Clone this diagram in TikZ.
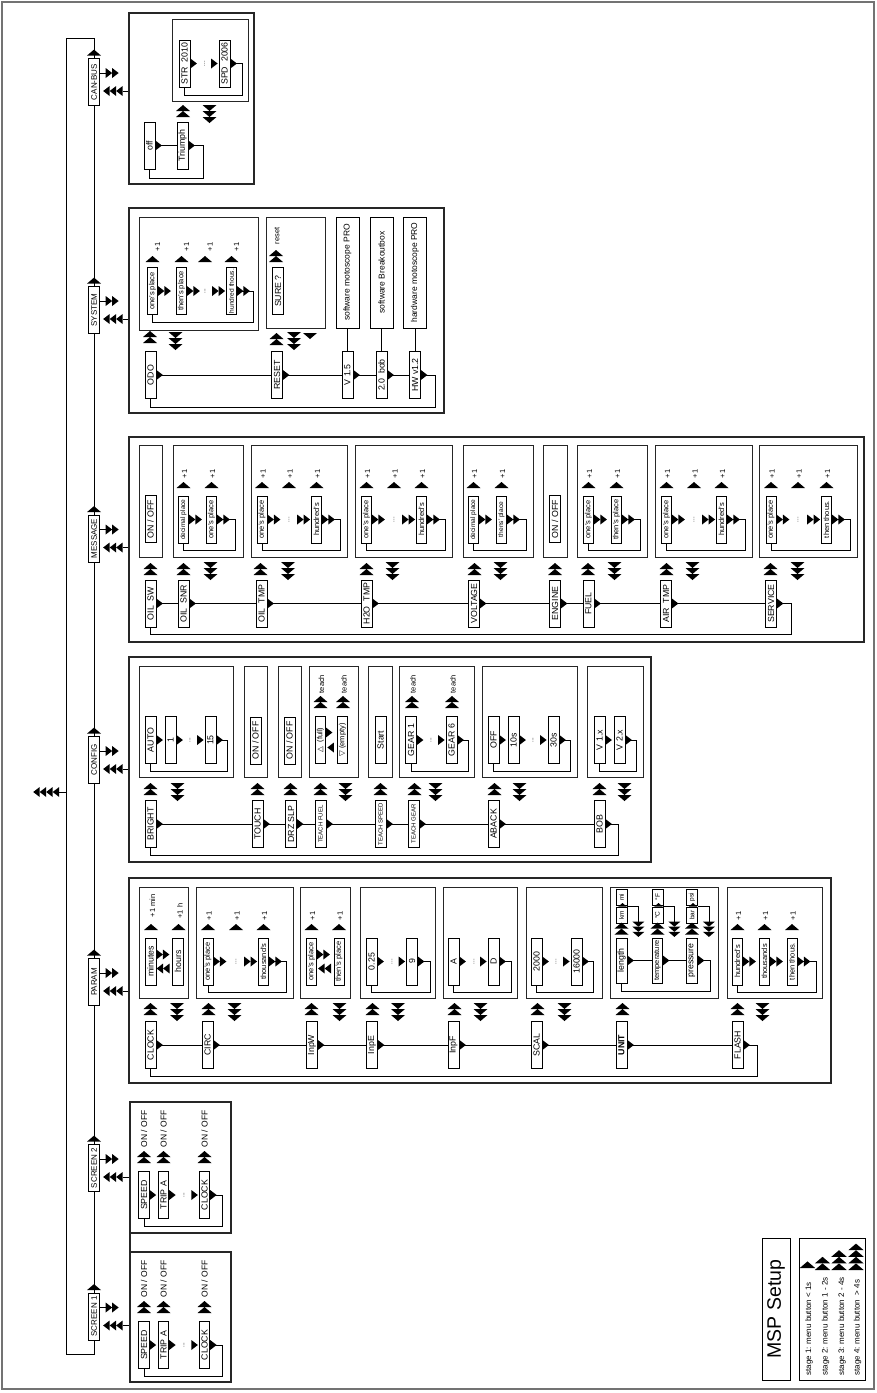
\documentclass[tikz,border=0pt]{standalone}
\usepackage{fontspec}
\setmainfont{Liberation Sans}
\newfontfamily\dejavu{DejaVu Sans}
\usepackage{graphicx}
\usetikzlibrary{calc}

\newcommand\vtext[1]{\rotatebox{90}{#1}}

\tikzset{
  bigframe/.style={draw=black!85, line width=1.2pt},
  subbox/.style={draw=black!85, line width=.9pt},
  menu/.style={draw, line width=.8pt, minimum width=10.5, minimum height=47, inner sep=0pt, font=\fontsize{8}{8}\selectfont},
  item/.style={draw, line width=.8pt, minimum width=11, minimum height=47, inner sep=0pt, font=\fontsize{8.8}{8.8}\selectfont},
  digit/.style={item, minimum width=10, font=\fontsize{7.5}{7.5}\selectfont},
  smalldigit/.style={digit, font=\fontsize{6.6}{6.6}\selectfont},
  teachitem/.style={item, font=\fontsize{6}{6}\selectfont},
  info/.style={item, minimum width=23, minimum height=111, font=\fontsize{8.5}{8.5}\selectfont},
  unitbox/.style={draw, line width=.8pt, minimum width=11, minimum height=16, inner sep=0pt, font=\fontsize{6.5}{6.5}\selectfont},
  note/.style={inner sep=0pt, font=\fontsize{7.5}{7.5}\selectfont},
  ellip/.style={inner sep=0pt, font=\fontsize{6}{6}\selectfont},
  rarr/.pic={\foreach \k in {1,...,#1} \fill ({(\k-1)*6.5},-5) -- ({\k*6.5},0) -- ({(\k-1)*6.5},5) -- cycle;},
  larr/.pic={\foreach \k in {1,...,#1} \fill ({-(\k-1)*6.5},-5) -- ({-\k*6.5},0) -- ({-(\k-1)*6.5},5) -- cycle;},
  uarr/.pic={\foreach \k in {1,...,#1} \fill (-7,{-(\k-1)*6}) -- (0,{-\k*6}) -- (7,{-(\k-1)*6}) -- cycle;},
  darr/.pic={\foreach \k in {1,...,#1} \fill (-7,{(\k-1)*6}) -- (0,{\k*6}) -- (7,{(\k-1)*6}) -- cycle;},
}

\begin{document}
\begin{tikzpicture}[x={(1pt,0pt)}, y={(0pt,-1pt)}, line width=.8pt]
  \useasboundingbox (0,0) rectangle (876,1393);
  \draw[black!55, line width=1.6pt] (2,2) rectangle (874,1389);

  % top level menu
  \begin{scope}[every node/.style={menu}]
    \node (can)  at (94,82)     {\vtext{CAN-BUS}};
    \node (sys)  at (94,310)    {\vtext{SYSTEM}};
    \node (msg)  at (94,538.5)  {\vtext{MESSAGE}};
    \node (cfg)  at (94,760)    {\vtext{CONFIG}};
    \node (par)  at (94,982)    {\vtext{PARAM}};
    \node (scr2) at (94,1168)   {\vtext{SCREEN 2}};
    \node (scr1) at (94,1316.5) {\vtext{SCREEN 1}};
  \end{scope}

  \coordinate (corner) at (66.7,38);
  \coordinate (quit) at (66.7,792);
  \draw (scr1.north) -- (scr2.south) (scr2.north) -- (par.south)
        (par.north) -- (cfg.south) (cfg.north) -- (msg.south)
        (msg.north) -- (sys.south) (sys.north) -- (can.south);
  \draw (scr1.south) -- ++(0,14) -| (corner) -| (can.north);
  \draw (quit) -- ++(-7.5,0);
  \pic at ($(quit)+(-7.5,0)$) {larr=4};
  \foreach \m in {scr1,scr2,par,cfg,msg,sys,can} {
    \pic at ($(\m.north)+(0,-2.5)$) {uarr=1};
    \draw ($(\m.east)+(0,-9)$) -- ++(6,0);
    \pic at ($(\m.east)+(6,-9)$) {rarr=2};
    \draw ($(\m.east)+(30,9)$) -- ++(-7,0);
    \pic at ($(\m.east)+(23,9)$) {larr=3};
  }

  % frames
  \begin{scope}[bigframe]
    \draw (129,13) rectangle (254,184);
    \draw (129,208) rectangle (444,413);
    \draw (129,437) rectangle (864,642);
    \draw (129,657) rectangle (651,862);
    \draw (129,878) rectangle (831,1083);
    \draw (130,1102) rectangle (231,1233);
    \draw (130,1252) rectangle (231,1382);
    \draw (130,1233) -- (130,1252);
  \end{scope}

  % CAN-BUS
  \draw[subbox] (172,19) rectangle (248,101);
  \begin{scope}[every node/.style={item}]
    \node (str) at (184.5,63.5)  {\vtext{STR\ \ 2010}};
    \node (spd) at (224.5,63.5)  {\vtext{SPD\ \ 2006}};
    \node (off) at (149.5,145.5) {\vtext{off}};
    \node (tri) at (182.5,145.5) {\vtext{Triumph}};
  \end{scope}
  \node[ellip] (cdots) at (204.5,63.5) {\vtext{...}};
  \foreach \n in {str,spd,off,tri} \pic at (\n.east) {rarr=1};
  \pic at ($(spd.west)+(-7.5,0)$) {rarr=1};
  \draw (spd.east) -- ++(12,0) |- ($(str.south)+(0,8)$) -- (str.south);
  \draw (off.east) -- (tri.west);
  \draw (tri.east) -- ++(15,0) |- ($(off.south)+(0,9)$) -- (off.south);
  \pic at (183,117) {uarr=2};
  \pic at (209.5,105) {darr=3};

  % SYSTEM
  \begin{scope}[subbox]
    \draw (139,217) rectangle (258,330);
    \draw (266,217) rectangle (325,328);
  \end{scope}
  \begin{scope}[every node/.style={item}]
    \node (odo)  at (150.5,375) {\vtext{ODO}};
    \node (rst)  at (277,375)   {\vtext{RESET}};
    \node (vsw)  at (347.5,375) {\vtext{V 1.5}};
    \node (vbob) at (381.5,375) {\vtext{2.0\ \ bob}};
    \node (vhw)  at (415,375)   {\vtext{HW v1.2}};
    \node (sure) at (278,291)   {\vtext{SURE ?}};
    \node[info] (swp) at (347.5,272.5) {\vtext{software motoscope PRO}};
    \node[info] (swb) at (381.5,272.5) {\vtext{software Breakoutbox}};
    \node[info] (hwp) at (415,272.5)   {\vtext{hardware motoscope PRO}};
  \end{scope}
  \begin{scope}[every node/.style={digit}]
    \node (oneO) at (152.5,291) {\vtext{one's place}};
    \node (thnO) at (181.5,291) {\vtext{then's place}};
    \node[smalldigit] (hthO) at (231.5,291) {\vtext{hundred thous.}};
  \end{scope}
  \node[ellip] (odots) at (205,291) {\vtext{...}};
  \draw (odo.east) -- (rst.west) (rst.east) -- (vsw.west) (vsw.east) -- (vbob.west) (vbob.east) -- (vhw.west);
  \draw (vhw.east) -- ++(14,0) |- ($(odo.south)+(0,8)$) -- (odo.south);
  \foreach \n in {odo,rst,vsw,vbob,vhw} \pic at (\n.east) {rarr=1};
  \draw (vsw.north) -- (swp.south) (vbob.north) -- (swb.south) (vhw.north) -- (hwp.south);
  \foreach \n in {oneO,thnO,hthO} \pic at (\n.east) {rarr=2};
  \pic at ($(hthO.west)+(-14,0)$) {rarr=2};
  \draw (hthO.east) -- ++(16,0) |- ($(oneO.south)+(0,7)$) -- (oneO.south);
  \foreach \x [count=\i] in {152.5,181.5,205,231.5} {
    \pic at (\x,262) {uarr=1};
    \node[note] (op\i) at (\x+5,247) {\vtext{+1}};
  }
  \pic at (276,262) {uarr=2};
  \node[note] (rlab) at (277,236) {\vtext{reset}};
  \pic at (150,343) {uarr=2};
  \pic at (175.5,332) {darr=3};
  \pic at (276.5,345) {uarr=2};
  \pic at (294,332) {darr=3};
  \pic at (310,333) {darr=1};

  % MESSAGE
  \begin{scope}[subbox]
    \draw (139,445) rectangle (162,557);
    \draw (173,445) rectangle (243,557);
    \draw (251,445) rectangle (347,557);
    \draw (355,445) rectangle (452,557);
    \draw (463,445) rectangle (533,557);
    \draw (543,445) rectangle (567,557);
    \draw (577,445) rectangle (647,557);
    \draw (655,445) rectangle (752,557);
    \draw (759,445) rectangle (857,557);
  \end{scope}
  \begin{scope}[every node/.style={item}]
    \node (oilsw)  at (150.5,603.5) {\vtext{OIL\ \ SW}};
    \node (oilsnr) at (183.5,603.5) {\vtext{OIL\ \ SNR}};
    \node (oiltmp) at (261.5,603.5) {\vtext{OIL\ \ TMP}};
    \node (htwo)   at (366.5,603.5) {\vtext{H2O\ \ TMP}};
    \node (volt)   at (474,603.5)   {\vtext{VOLTAGE}};
    \node (eng)    at (555,603.5)   {\vtext{ENGINE}};
    \node (fuel)   at (588.5,603.5) {\vtext{FUEL}};
    \node (airt)   at (666,603.5)   {\vtext{AIR\ \ TMP}};
    \node (serv)   at (771,603.5)   {\vtext{SERVICE}};
    \node (onA)    at (150.5,519)   {\vtext{ON / OFF}};
    \node (onB)    at (555,519)     {\vtext{ON / OFF}};
  \end{scope}
  \begin{scope}[every node/.style={digit}]
    \node[smalldigit] (decA) at (183.5,519.5) {\vtext{decimal place}};
    \node (oneA) at (211.5,519.5) {\vtext{one's place}};
    \node (oneB) at (262,519.5)   {\vtext{one's place}};
    \node (hunB) at (316.5,519.5) {\vtext{hundred's}};
    \node (oneC) at (366.5,519.5) {\vtext{one's place}};
    \node (hunC) at (421.5,519.5) {\vtext{hundred's}};
    \node[smalldigit] (decD) at (473.5,519.5) {\vtext{decimal place}};
    \node[smalldigit] (thsD) at (501.5,519.5) {\vtext{thens' place}};
    \node (oneE) at (588.5,519.5) {\vtext{one's place}};
    \node (thnE) at (616.5,519.5) {\vtext{then's place}};
    \node (oneF) at (666.5,519.5) {\vtext{one's place}};
    \node (hunF) at (721.5,519.5) {\vtext{hundred's}};
    \node (oneG) at (771,519.5)   {\vtext{one's place}};
    \node (tthG) at (826.5,519.5) {\vtext{then thous.}};
  \end{scope}
  \node[ellip] (mdB) at (289,519.5) {\vtext{...}};
  \node[ellip] (mdC) at (394,519.5) {\vtext{...}};
  \node[ellip] (mdF) at (694,519.5) {\vtext{...}};
  \node[ellip] (mdG) at (798,519.5) {\vtext{...}};
  \draw (oilsw.east) -- (oilsnr.west) (oilsnr.east) -- (oiltmp.west) (oiltmp.east) -- (htwo.west)
        (htwo.east) -- (volt.west) (volt.east) -- (eng.west) (eng.east) -- (fuel.west)
        (fuel.east) -- (airt.west) (airt.east) -- (serv.west);
  \draw (serv.east) -- ++(14.5,0) |- ($(oilsw.south)+(0,7)$) -- (oilsw.south);
  \foreach \n in {oilsw,oilsnr,oiltmp,htwo,volt,eng,fuel,airt,serv} \pic at (\n.east) {rarr=1};
  \foreach \n in {decA,oneA,oneB,hunB,oneC,hunC,decD,thsD,oneE,thnE,oneF,hunF,oneG,tthG} \pic at (\n.east) {rarr=2};
  \foreach \n in {hunB,hunC,hunF,tthG} \pic at ($(\n.west)+(-14,0)$) {rarr=2};
  \draw (oneA.east) -- ++(18,0) |- ($(decA.south)+(0,7)$) -- (decA.south);
  \draw (hunB.east) -- ++(18,0) |- ($(oneB.south)+(0,7)$) -- (oneB.south);
  \draw (hunC.east) -- ++(18,0) |- ($(oneC.south)+(0,7)$) -- (oneC.south);
  \draw (thsD.east) -- ++(19,0) |- ($(decD.south)+(0,7)$) -- (decD.south);
  \draw (thnE.east) -- ++(18,0) |- ($(oneE.south)+(0,7)$) -- (oneE.south);
  \draw (hunF.east) -- ++(18,0) |- ($(oneF.south)+(0,7)$) -- (oneF.south);
  \draw (tthG.east) -- ++(18,0) |- ($(oneG.south)+(0,7)$) -- (oneG.south);
  \foreach \x [count=\i] in {183.5,211.5,262,289,316.5,366.5,394,421.5,473.5,501.5,588.5,616.5,666.5,694,721.5,771,798,826.5} {
    \pic at (\x,488) {uarr=1};
    \node[note] (mp\i) at (\x+1,474) {\vtext{+1}};
  }
  \foreach \x in {150.5,183.5,260.5,366.5,474.5,555,588,666.5,770.5} \pic at (\x,575) {uarr=2};
  \foreach \x in {210.5,288,392.5,500.5,614.5,692.5,797.5} \pic at (\x,562) {darr=3};

  % CONFIG
  \begin{scope}[subbox]
    \draw (139,666) rectangle (233,777);
    \draw (244,666) rectangle (267,777);
    \draw (278,666) rectangle (301,777);
    \draw (309,666) rectangle (358,777);
    \draw (368,666) rectangle (392,777);
    \draw (399,666) rectangle (474,777);
    \draw (482,666) rectangle (577,777);
    \draw (587,666) rectangle (643,777);
  \end{scope}
  \begin{scope}[every node/.style={item}]
    \node (bright) at (150.5,824) {\vtext{BRIGHT}};
    \node (touch)  at (257.5,824) {\vtext{TOUCH}};
    \node (drz)    at (291,824)   {\vtext{DRZ SLP}};
    \node[teachitem] (tfuel)  at (320.5,824) {\vtext{TEACH FUEL}};
    \node[teachitem] (tspeed) at (380.5,824) {\vtext{TEACH SPEED}};
    \node[teachitem] (tgear)  at (413.5,824) {\vtext{TEACH GEAR}};
    \node (aback)  at (493.5,824) {\vtext{ABACK}};
    \node (bobm)   at (599.5,824) {\vtext{BOB}};
    \node (bauto)  at (150.5,740) {\vtext{AUTO}};
    \node (bone)   at (170.5,740) {\vtext{1}};
    \node (bfif)   at (210.5,740) {\vtext{15}};
    \node (onC)    at (255.5,740.5) {\vtext{ON / OFF}};
    \node (onD)    at (289.5,740.5) {\vtext{ON / OFF}};
    \node[digit] (full)  at (320.5,740) {\vtext{{\dejavu △}\ \ (full)}};
    \node[digit] (empty) at (342.5,740) {\vtext{{\dejavu ▽} (empty)}};
    \node (start)  at (380.5,740) {\vtext{Start}};
    \node (gone)   at (411,740)   {\vtext{GEAR 1}};
    \node (gsix)   at (451.5,740) {\vtext{GEAR 6}};
    \node (aoff)   at (493.5,740) {\vtext{OFF}};
    \node (aten)   at (513.5,740) {\vtext{10s}};
    \node (athi)   at (553.5,740) {\vtext{30s}};
    \node (vone)   at (599.5,740) {\vtext{V 1.x}};
    \node (vtwo)   at (619.5,740) {\vtext{V 2.x}};
  \end{scope}
  \node[ellip] (cdA) at (190,740) {\vtext{...}};
  \node[ellip] (cdB) at (431,740) {\vtext{...}};
  \node[ellip] (cdC) at (533,740) {\vtext{...}};
  \draw (bright.east) -- (touch.west) (touch.east) -- (drz.west) (drz.east) -- (tfuel.west)
        (tfuel.east) -- (tspeed.west) (tspeed.east) -- (tgear.west) (tgear.east) -- (aback.west)
        (aback.east) -- (bobm.west);
  \draw (bobm.east) -- ++(13,0) |- ($(bright.south)+(0,7)$) -- (bright.south);
  \foreach \n in {bright,touch,drz,tfuel,tspeed,tgear,aback,bobm} \pic at (\n.east) {rarr=1};
  \foreach \n in {bauto,bone,bfif,gone,gsix,aoff,aten,athi,vone,vtwo} \pic at (\n.east) {rarr=1};
  \foreach \n in {bfif,gsix,athi} \pic at ($(\n.west)+(-7.5,0)$) {rarr=1};
  \draw (bfif.east) -- ++(11,0) |- ($(bauto.south)+(0,7)$) -- (bauto.south);
  \draw (gsix.east) -- ++(11,0) |- ($(gone.south)+(0,7)$) -- (gone.south);
  \draw (athi.east) -- ++(11,0) |- ($(aoff.south)+(0,7)$) -- (aoff.south);
  \draw (vtwo.east) -- ++(11,0) |- ($(vone.south)+(0,7)$) -- (vone.south);
  \pic at ($(full.east)+(0,-7.5)$) {rarr=1};
  \pic at ($(full.east)+(8,7.5)$) {larr=1};
  \foreach \x [count=\i] in {320.5,343,412,452} {
    \pic at (\x,708) {uarr=2};
    \node[note] (teach\i) at (\x+1,684) {\vtext{teach}};
  }
  \foreach \x in {150.5,257.5,290.5,320.5,380.5,414.5,494.5,599.5} \pic at (\x,795) {uarr=2};
  \foreach \x in {177.5,345.5,435.5,519.5,624.5} \pic at (\x,783) {darr=3};

  % PARAM
  \begin{scope}[subbox]
    \draw (139,887) rectangle (188,998);
    \draw (196,887) rectangle (293,998);
    \draw (300,887) rectangle (350,998);
    \draw (360,887) rectangle (435,998);
    \draw (443,887) rectangle (517,998);
    \draw (526,887) rectangle (602,998);
    \draw (610,887) rectangle (718,998);
    \draw (727,887) rectangle (822,998);
  \end{scope}
  \begin{scope}[every node/.style={item}]
    \node (clock) at (150.5,1045) {\vtext{CLOCK}};
    \node (circ)  at (207.5,1045) {\vtext{CIRC}};
    \node (inpw)  at (312,1045)   {\vtext{InpW}};
    \node (inpe)  at (372,1045)   {\vtext{InpE}};
    \node (inpf)  at (453.5,1045) {\vtext{InpF}};
    \node (scal)  at (536.5,1045) {\vtext{SCAL}};
    \node[font=\fontsize{8.8}{8.8}\selectfont\bfseries] (unit) at (621.5,1045) {\vtext{UNIT}};
    \node (flash) at (737.5,1045) {\vtext{FLASH}};
    \node (mins)  at (150.5,961.5) {\vtext{minutes}};
    \node (hrs)   at (178,961.5)   {\vtext{hours}};
    \node (qlow)  at (371.5,961.5) {\vtext{0.25}};
    \node (qhigh) at (412,961.5)   {\vtext{9}};
    \node (fa)    at (453.5,961.5) {\vtext{A}};
    \node (fd)    at (493.5,961.5) {\vtext{D}};
    \node (slow)  at (536.5,961.5) {\vtext{2000}};
    \node (shigh) at (576.5,961.5) {\vtext{16000}};
    \node[minimum height=45] (len) at (621.5,960.5) {\vtext{length}};
    \node[digit, minimum height=45] (temp) at (657.5,960.5) {\vtext{temperature}};
    \node[minimum height=45] (pres) at (692,960.5) {\vtext{pressure}};
  \end{scope}
  \begin{scope}[every node/.style={digit}]
    \node (oneH) at (208,961.5)   {\vtext{one's place}};
    \node (thsH) at (263.5,961.5) {\vtext{thousand's}};
    \node (oneI) at (311.5,961.5) {\vtext{one's place}};
    \node (thnI) at (339,961.5)   {\vtext{then's place}};
    \node (hunJ) at (737.5,961.5) {\vtext{hundred's}};
    \node (thsJ) at (764.5,961.5) {\vtext{thousands}};
    \node (tthJ) at (792,961.5)   {\vtext{then thous.}};
  \end{scope}
  \node[ellip] (pdA) at (236,961.5) {\vtext{...}};
  \node[ellip] (pdB) at (392,961.5) {\vtext{...}};
  \node[ellip] (pdC) at (474,961.5) {\vtext{...}};
  \node[ellip] (pdD) at (556,961.5) {\vtext{...}};
  \draw (clock.east) -- (circ.west) (circ.east) -- (inpw.west) (inpw.east) -- (inpe.west)
        (inpe.east) -- (inpf.west) (inpf.east) -- (scal.west) (scal.east) -- (unit.west)
        (unit.east) -- (flash.west);
  \draw (flash.east) -- ++(14,0) |- ($(clock.south)+(0,7)$) -- (clock.south);
  \foreach \n in {clock,circ,inpw,inpe,inpf,scal,unit,flash} \pic at (\n.east) {rarr=1};
  \pic at ($(mins.east)+(0,-7)$) {rarr=2};
  \pic at ($(hrs.west)+(-2.5,7)$) {larr=2};
  \pic at ($(oneI.east)+(0,-7)$) {rarr=2};
  \pic at ($(thnI.west)+(-2.5,7)$) {larr=2};
  \foreach \n in {oneH,thsH,hunJ,thsJ,tthJ} \pic at (\n.east) {rarr=2};
  \pic at ($(thsH.west)+(-14,0)$) {rarr=2};
  \draw (thsH.east) -- ++(17,0) |- ($(oneH.south)+(0,7)$) -- (oneH.south);
  \draw (tthJ.east) -- ++(19,0) |- ($(hunJ.south)+(0,7)$) -- (hunJ.south);
  \foreach \n in {qlow,qhigh,fa,fd,slow,shigh,len,temp,pres} \pic at (\n.east) {rarr=1};
  \foreach \n in {qhigh,fd,shigh} \pic at ($(\n.west)+(-7.5,0)$) {rarr=1};
  \draw (qhigh.east) -- ++(12,0) |- ($(qlow.south)+(0,7)$) -- (qlow.south);
  \draw (fd.east) -- ++(12,0) |- ($(fa.south)+(0,7)$) -- (fa.south);
  \draw (shigh.east) -- ++(11,0) |- ($(slow.south)+(0,7)$) -- (slow.south);
  \draw (len.east) -- (temp.west) (temp.east) -- (pres.west);
  \draw (pres.east) -- ++(12,0) |- ($(len.south)+(0,8)$) -- (len.south);
  % units
  \begin{scope}[every node/.style={unitbox}]
    \node (ukm)  at (621.5,915) {\vtext{km}};
    \node (umi)  at (621.5,897) {\vtext{mi}};
    \node (udc)  at (657.5,915) {\vtext{°C}};
    \node (udf)  at (657.5,897) {\vtext{°F}};
    \node (ubar) at (692,915)   {\vtext{bar}};
    \node (upsi) at (692,897)   {\vtext{psi}};
  \end{scope}
  \foreach \a/\b/\c in {ukm/umi/len, udc/udf/temp, ubar/upsi/pres} {
    \pic[scale=.6] at ($(\a.north)+(1,0)$) {uarr=1};
    \draw (\a.north east) -- ++(11,0) -- ++(0,15);
    \pic at ($(\c.north)+(0,-3)$) {uarr=2};
    \pic[scale=.85] at ($(\a.north east)+(11,15)$) {darr=3};
  }
  \foreach \x [count=\i] in {208,236,263.5,311.5,339,737.5,764.5,792} {
    \pic at (\x,930) {uarr=1};
    \node[note] (pp\i) at (\x+1,916) {\vtext{+1}};
  }
  \pic at (151,930) {uarr=1};
  \pic at (178.5,930) {uarr=1};
  \node[note] (pmin) at (152.5,906) {\vtext{+1 min}};
  \node[note] (phour) at (180,911) {\vtext{+1 h}};
  \foreach \x in {150.5,208.5,311.5,372.5,454.5,537.5,622.5,737.5} \pic at (\x,1015) {uarr=2};
  \foreach \x in {177,234.5,339.5,398,480.5,564.5,762.5} \pic at (\x,1003) {darr=3};

  % SCREEN 1 and SCREEN 2
  \begin{scope}[every node/.style={item, minimum width=10.5}]
    \node (spB) at (144,1195)   {\vtext{SPEED}};
    \node (taB) at (163.5,1195) {\vtext{TRIP A}};
    \node (ckB) at (204.5,1195) {\vtext{CLOCK}};
    \node (spA) at (144,1345)   {\vtext{SPEED}};
    \node (taA) at (163.5,1345) {\vtext{TRIP A}};
    \node (ckA) at (204.5,1345) {\vtext{CLOCK}};
  \end{scope}
  \foreach \s in {A,B} {
    \foreach \n in {sp,ta,ck} \pic at (\n\s.east) {rarr=1};
    \pic at ($(ck\s.west)+(-7.5,0)$) {rarr=1};
    \draw (ck\s.east) -- ++(12,0) |- ($(sp\s.south)+(0,7)$) -- (sp\s.south);
  }
  \foreach \y [count=\i] in {1195,1345} {
    \node[ellip] (sd\i) at (184,\y) {\vtext{...}};
    \foreach \x [count=\j] in {144,163.5,204.5} {
      \pic at (\x,\y-32) {uarr=2};
      \node[note, font=\fontsize{8.5}{8.5}\selectfont] (so\i\j) at (\x,\y-66) {\vtext{ON / OFF}};
    }
  }

  % legend
  \node[draw, minimum width=28, minimum height=142, inner sep=0pt, font=\fontsize{19.5}{19.5}\selectfont] (msp) at (776,1309) {\vtext{MSP Setup}};
  \draw (799,1238) rectangle (865,1380);
  \begin{scope}[every node/.style={anchor=south, inner sep=0pt, font=\fontsize{8}{8}\selectfont}]
    \node (stA) at (809,1376)   {\vtext{stage 1: menu button < 1s}};
    \node (stB) at (825.5,1376) {\vtext{stage 2: menu button 1 - 2s}};
    \node (stC) at (842,1376)   {\vtext{stage 3: menu button 2 - 4s}};
    \node (stD) at (857.5,1376) {\vtext{stage 4: menu button\ \ > 4s}};
  \end{scope}
  \pic[scale=1.1] at (807.5,1268) {uarr=1};
  \pic[scale=1.1] at (822.5,1270) {uarr=2};
  \pic[scale=1.1] at (839,1270)   {uarr=3};
  \pic[scale=1.1] at (856,1270)   {uarr=4};
\end{tikzpicture}
\end{document}
